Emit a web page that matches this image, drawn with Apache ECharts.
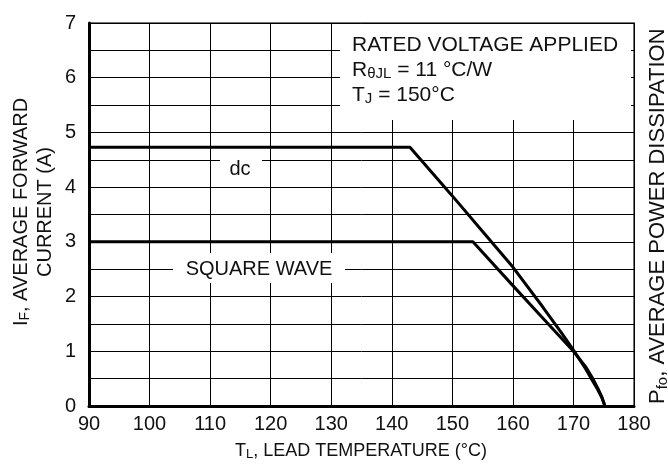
<!DOCTYPE html>
<html><head><meta charset="utf-8">
<script src="https://cdn.jsdelivr.net/npm/echarts@6/dist/echarts.min.js"></script>
<style>html,body{margin:0;padding:0;background:#fff}#c{width:668px;height:467px}</style>
</head><body><div id="c"></div>
<script>
// ---- data ----
const xMin = 90, xMax = 180, xStep = 10;
const yMin = 0, yMax = 7, yStep = 1;
const dcTemp    = [90, 143.0, 150, 155, 160, 165, 168, 170, 172, 173, 174, 174.7, 175.2];
const dcCurrent = [4.73, 4.73, 3.84, 3.19, 2.54, 1.80, 1.34, 1.02, 0.68, 0.49, 0.30, 0.15, 0];
const sqTemp    = [90, 153.4, 160, 165, 170, 172, 173, 174, 174.7, 175.2];
const sqCurrent = [3.0, 3.0, 2.2, 1.6, 1.0, 0.72, 0.54, 0.33, 0.16, 0];
const noteLines = ['RATED VOLTAGE APPLIED', 'R{s|θJL} = 11 °C/W', 'T{s|J} = 150°C'];

const FONT = '"Liberation Sans", Arial, Helvetica, sans-serif';
const chart = echarts.init(document.getElementById('c'), null, {renderer: 'canvas'});
function txt(text, x, y, size, opts) {
  return Object.assign({
    type: 'text', z: 20, x: x, y: y,
    style: Object.assign({text: text, font: size + 'px ' + FONT, fill: '#111', align: 'center', verticalAlign: 'middle',
      rich: {s: {fontSize: Math.round(size * 0.7), fontFamily: FONT, fill: '#111', padding: [Math.round(size * 0.4), 0, 0, 0]}}}, opts || {})
  });
}
function zip(a, b) { return a.map((v, i) => [v, b[i]]); }

chart.setOption({
  animation: false,
  backgroundColor: '#fff',
  grid: {left: 89, top: 23, right: 34, bottom: 61, show: true, borderColor: '#444', borderWidth: 1.5, backgroundColor: '#fff'},
  xAxis: {
    type: 'value', min: xMin, max: xMax, interval: xStep,
    axisLine: {show: true, onZero: false, lineStyle: {color: '#000', width: 3}},
    axisTick: {show: false},
    axisLabel: {color: '#111', fontSize: 20, fontFamily: FONT, margin: 8},
    splitLine: {show: true, lineStyle: {color: '#000', width: 1}}
  },
  yAxis: {
    type: 'value', min: yMin, max: yMax, interval: yStep,
    axisLine: {show: true, onZero: false, lineStyle: {color: '#000', width: 3}},
    axisTick: {show: false},
    minorTick: {show: false, splitNumber: 2},
    minorSplitLine: {show: true, lineStyle: {color: '#000', width: 1}},
    axisLabel: {color: '#111', fontSize: 20, fontFamily: FONT, margin: 13},
    splitLine: {show: true, lineStyle: {color: '#000', width: 1}}
  },
  series: [
    {type: 'line', name: 'dc', data: zip(dcTemp, dcCurrent), showSymbol: false, symbol: 'none', z: 3,
     lineStyle: {color: '#000', width: 3}},
    {type: 'line', name: 'SQUARE WAVE', data: zip(sqTemp, sqCurrent), showSymbol: false, symbol: 'none', z: 3,
     lineStyle: {color: '#000', width: 3}}
  ],
  graphic: [
    {type: 'rect', z: 10, shape: {x: 340, y: 24, width: 291, height: 96}, style: {fill: '#fff'}},
    {type: 'rect', z: 10, shape: {x: 220, y: 152, width: 42, height: 32}, style: {fill: '#fff'}},
    {type: 'rect', z: 10, shape: {x: 173, y: 253, width: 172, height: 30}, style: {fill: '#fff'}},
    txt(noteLines[0], 352, 45, 21, {align: 'left'}),
    txt(noteLines[1], 352, 70, 21, {align: 'left'}),
    txt(noteLines[2], 352, 95, 21, {align: 'left'}),
    txt('dc', 240, 169, 20),
    txt('SQUARE WAVE', 259, 269, 20),
    txt('T{s|L}, LEAD TEMPERATURE (°C)', 361, 451, 18),
    Object.assign(txt('I{s|F}, AVERAGE FORWARD\nCURRENT (A)', 33, 212, 20, {lineHeight: 24}), {rotation: Math.PI / 2}),
    Object.assign(txt('P{s|fo}, AVERAGE POWER DISSIPATION', 658, 404, 22, {align: 'left'}), {rotation: Math.PI / 2})
  ]
});
</script></body></html>
